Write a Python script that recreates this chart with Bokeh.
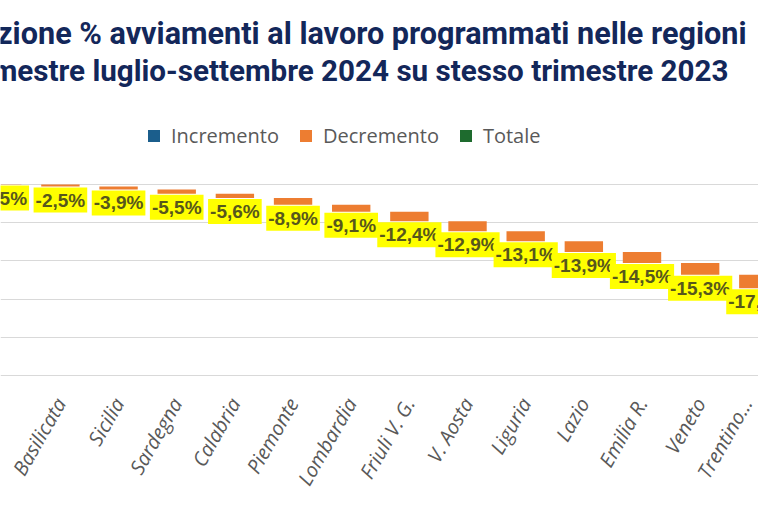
import numpy as np
from bokeh.plotting import figure
from bokeh.models import ColumnDataSource, Range1d, FixedTicker, Label, Legend, LegendItem
from bokeh.embed import file_html
from bokeh.resources import INLINE
from bokeh.core.properties import value

# ---- data ----
categories = ["Campania", "Basilicata", "Sicilia", "Sardegna", "Calabria", "Piemonte",
              "Lombardia", "Friuli V. G.", "V. Aosta", "Liguria", "Lazio", "Emilia R.",
              "Veneto", "Trentino..."]
variazioni = [-0.5, -2.5, -3.9, -5.5, -5.6, -8.9, -9.1, -12.4, -12.9, -13.1, -13.9,
              -14.5, -15.3, -17.7]
is_total = [False] * len(variazioni)
start_level = 0.0
grid_values = [0, -50, -100, -150, -200, -250]
title_lines = ["Variazione % avviamenti al lavoro programmati nelle regioni",
               "Trimestre luglio-settembre 2024 su stesso trimestre 2023"]
legend_labels = ["Incremento", "Decremento", "Totale"]

# ---- colours / styles ----
C_INC = "#1B5E8C"
C_DEC = "#ED7D31"
C_TOT = "#1E6B2E"
NAVY = "#13275A"
GREY = "#595959"

vals = np.array(variazioni, dtype=float)
tot = np.array(is_total)
ends = start_level + np.cumsum(vals)
starts = ends - vals
low = np.minimum(starts, ends)
high = np.maximum(starts, ends)
xs = np.arange(len(categories))
labels = [("%.1f" % v).replace(".", ",") + "%" for v in vals]

# one column pair per waterfall series (zero height where the series does not apply)
src = ColumnDataSource(dict(
    x=xs, low=low, lab=labels,
    inc_top=np.where((vals > 0) & ~tot, high, low),
    dec_top=np.where((vals < 0) & ~tot, high, low),
    tot_top=np.where(tot, high, low),
))

p = figure(width=758, height=500,
           x_range=Range1d(-0.03, 13.003), y_range=Range1d(-250.8, 239.6),
           output_backend="svg", toolbar_location=None, y_axis_location=None,
           min_border_left=0, min_border_right=0, min_border_top=0, min_border_bottom=122)
p.outline_line_color = None
p.background_fill_color = "white"
p.xgrid.visible = False
p.ygrid.ticker = FixedTicker(ticks=grid_values)
p.ygrid.grid_line_color = "#D9D9D9"
p.ygrid.grid_line_width = 1.2

r_inc = p.vbar(x="x", top="inc_top", bottom="low", width=0.66, source=src,
               fill_color=C_INC, line_color=None)
r_dec = p.vbar(x="x", top="dec_top", bottom="low", width=0.66, source=src,
               fill_color=C_DEC, line_color=None)
r_tot = p.vbar(x="x", top="tot_top", bottom="low", width=0.66, source=src,
               fill_color=C_TOT, line_color=None)

p.text(x="x", y="low", text="lab", source=src, text_align="center",
       text_baseline="middle", y_offset=13.5,
       text_font=value("Liberation Sans"), text_font_style="bold",
       text_font_size="19px", text_color="#57571C",
       background_fill_color="#FFFF00", padding=2)

ax = p.xaxis[0]
ax.ticker = FixedTicker(ticks=list(xs[1:]))
ax.major_label_overrides = {int(i): c for i, c in zip(xs, categories)}
ax.major_label_orientation = 1.05
ax.major_label_text_font = "Open Sans"
ax.major_label_text_font_style = "italic"
ax.major_label_text_font_size = "20px"
ax.major_label_text_color = GREY
ax.major_label_standoff = 17
ax.axis_line_color = None
ax.major_tick_line_color = None
ax.minor_tick_line_color = None

# title lines (right aligned, left part cut by the canvas edge as in the reference)
p.add_layout(Label(x=746, y=343, x_units="screen", y_units="screen", text=title_lines[0],
                   text_align="right", text_baseline="alphabetic",
                   text_font="Roboto", text_font_style="bold", text_font_size="30.6px",
                   text_color=NAVY))
p.add_layout(Label(x=728, y=306, x_units="screen", y_units="screen", text=title_lines[1],
                   text_align="right", text_baseline="alphabetic",
                   text_font="Roboto", text_font_style="bold", text_font_size="29.6px",
                   text_color=NAVY))

legend = Legend(items=[LegendItem(label=legend_labels[0], renderers=[r_inc]),
                       LegendItem(label=legend_labels[1], renderers=[r_dec]),
                       LegendItem(label=legend_labels[2], renderers=[r_tot])],
                orientation="horizontal", location=(146, 227),
                glyph_width=15, glyph_height=15, label_standoff=10, spacing=19,
                padding=0, margin=0, border_line_color=None, background_fill_alpha=0,
                label_text_font="Open Sans", label_text_font_size="20px",
                label_text_color=GREY)
p.add_layout(legend)

open("out.html", "w").write(file_html(p, INLINE))
